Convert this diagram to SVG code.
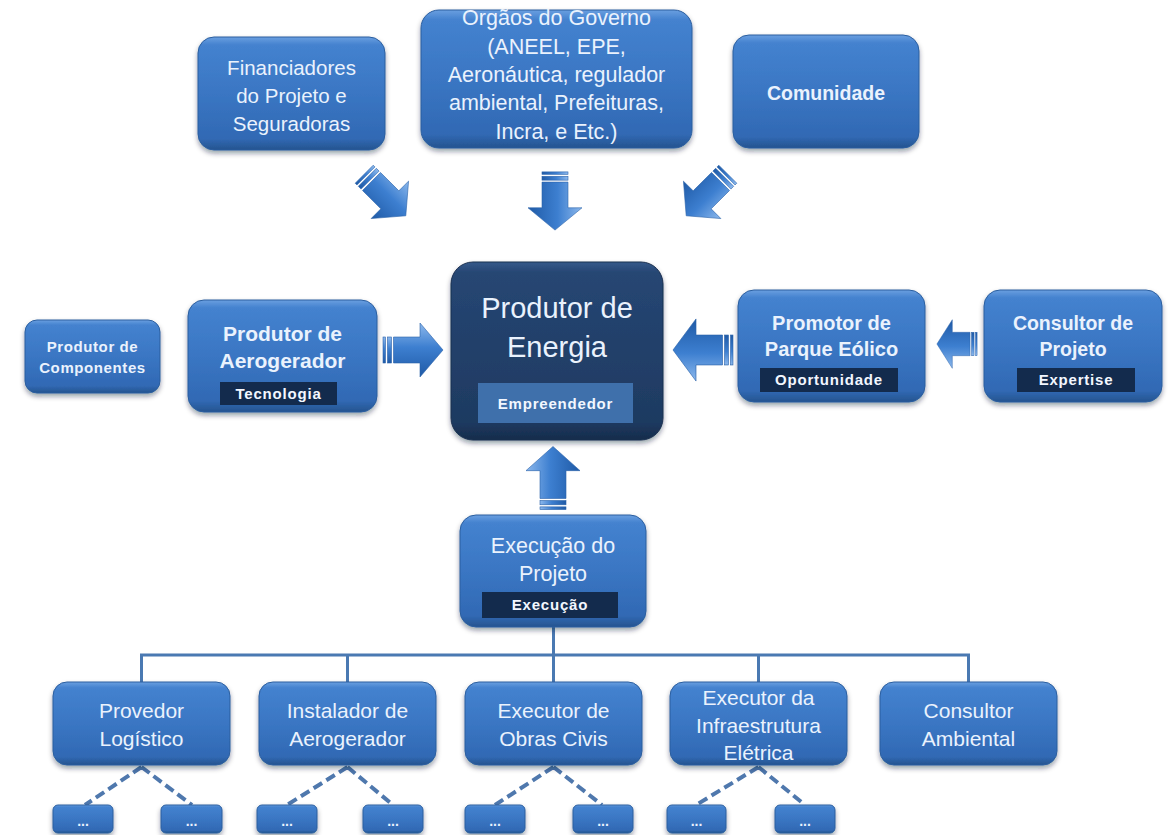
<svg xmlns="http://www.w3.org/2000/svg" width="1168" height="835" viewBox="0 0 1168 835">
<defs>
<linearGradient id="gBox" x1="0" y1="0" x2="0" y2="1">
<stop offset="0" stop-color="#6a9fe0"/>
<stop offset="0.07" stop-color="#4482cf"/>
<stop offset="0.5" stop-color="#3a76c3"/>
<stop offset="0.9" stop-color="#3169b4"/>
<stop offset="1" stop-color="#25548f"/>
</linearGradient>
<linearGradient id="gDark" x1="0" y1="0" x2="0" y2="1">
<stop offset="0" stop-color="#34598a"/>
<stop offset="0.06" stop-color="#264673"/>
<stop offset="0.9" stop-color="#1e3a61"/>
<stop offset="1" stop-color="#162c4b"/>
</linearGradient>
<linearGradient id="gArrow" x1="0" y1="0" x2="0" y2="1">
<stop offset="0" stop-color="#8cb8ec"/>
<stop offset="0.45" stop-color="#3d7fd0"/>
<stop offset="1" stop-color="#1f5aa6"/>
</linearGradient>
<filter id="sh" x="-10%" y="-10%" width="120%" height="130%">
<feDropShadow dx="0" dy="3" stdDeviation="2.5" flood-color="#0a1a33" flood-opacity="0.4"/>
</filter>
<g id="arrow">
<rect x="-30" y="-13" width="2.5" height="26"/>
<rect x="-25.5" y="-13" width="4" height="26"/>
<path d="M-19.5,-13 L7,-13 L7,-27 L30,0 L7,27 L7,13 L-19.5,13 Z"/>
</g>
<style>
.box{fill:url(#gBox);stroke:#2b5e9f;stroke-width:1;filter:url(#sh)}
.dark{fill:url(#gDark);stroke:#1a3050;stroke-width:1;filter:url(#sh)}
.bar{fill:#132b4d}
.bar2{fill:#3f70ab}
.t{font-family:"Liberation Sans",Arial,sans-serif;fill:#eaf2fd;text-anchor:middle}
.tb{font-family:"Liberation Sans",Arial,sans-serif;fill:#eaf2fd;text-anchor:middle;font-weight:bold}
.lbl{font-family:"Liberation Sans",Arial,sans-serif;fill:#f2f7ff;text-anchor:middle;font-weight:bold;font-size:15px;letter-spacing:0.8px}
.arr{fill:url(#gArrow);stroke:#2a62aa;stroke-width:0.6}
.con{stroke:#4a79b2;stroke-width:3;fill:none}
.dash{stroke:#4f78ad;stroke-width:4;fill:none;stroke-dasharray:10 5}
</style>
</defs>
<rect width="1168" height="835" fill="#ffffff"/>

<g id="connectors">
<path class="con" d="M553.5,627 V682 M141.5,682 V655 H968.5 V682 M347.5,655 V682 M758.5,655 V682"/>
<path class="dash" d="M141.5,767 L85,805 M141.5,767 L192,805 M347.5,767 L287,805 M347.5,767 L393,805 M553.5,767 L495,805 M553.5,767 L602,805 M758.5,767 L696,805 M758.5,767 L805,805"/>
<use href="#arrow" class="arr" transform="translate(385,195) rotate(45) scale(0.98)"/>
<use href="#arrow" class="arr" transform="translate(555,201) rotate(90) scale(0.97,1)"/>
<use href="#arrow" class="arr" transform="translate(707,195) rotate(135) scale(0.98)"/>
<use href="#arrow" class="arr" transform="translate(413,350)"/>
<use href="#arrow" class="arr" transform="translate(703,350) rotate(180) scale(1,1.15)"/>
<use href="#arrow" class="arr" transform="translate(957,344) rotate(180) scale(0.67,0.9)"/>
<use href="#arrow" class="arr" transform="translate(553,478) rotate(-90) scale(1.05,1)"/>
</g>

<g id="financiadores">
<rect class="box" x="198" y="37" width="187" height="113" rx="16"/>
<text class="t" font-size="20.5"><tspan x="291.5" y="75">Financiadores</tspan><tspan x="291.5" y="103">do Projeto e</tspan><tspan x="291.5" y="131">Seguradoras</tspan></text>
</g>
<g id="orgaos">
<rect class="box" x="421" y="10" width="271" height="138" rx="18"/>
<text class="t" font-size="21.5"><tspan x="556.5" y="25">Orgãos do Governo</tspan><tspan x="556.5" y="54">(ANEEL, EPE,</tspan><tspan x="556.5" y="82">Aeronáutica, regulador</tspan><tspan x="556.5" y="110">ambiental, Prefeituras,</tspan><tspan x="556.5" y="139">Incra, e Etc.)</tspan></text>
</g>
<g id="comunidade">
<rect class="box" x="733" y="35" width="186" height="113" rx="16"/>
<text class="tb" font-size="19.5" x="826" y="100">Comunidade</text>
</g>

<g id="componentes">
<rect class="box" x="25" y="320" width="135" height="73" rx="12"/>
<text class="tb" font-size="15" letter-spacing="0.6"><tspan x="92.5" y="352">Produtor de</tspan><tspan x="92.5" y="373">Componentes</tspan></text>
</g>
<g id="aerogerador">
<rect class="box" x="188" y="300" width="189" height="112" rx="16"/>
<text class="tb" font-size="21"><tspan x="282.5" y="341">Produtor de</tspan><tspan x="282.5" y="368">Aerogerador</tspan></text>
<rect class="bar" x="220" y="382" width="117" height="23"/>
<text class="lbl" x="278.5" y="399">Tecnologia</text>
</g>
<g id="energia">
<rect class="dark" x="451" y="262" width="212" height="178" rx="22"/>
<text class="t" font-size="29"><tspan x="557" y="318">Produtor de</tspan><tspan x="557" y="357">Energia</tspan></text>
<rect class="bar2" x="478" y="383" width="155" height="40"/>
<text class="lbl" font-size="17" x="555.5" y="409">Empreendedor</text>
</g>
<g id="promotor">
<rect class="box" x="738" y="290" width="187" height="112" rx="16"/>
<text class="tb" font-size="20"><tspan x="831.5" y="330">Promotor de</tspan><tspan x="831.5" y="356">Parque Eólico</tspan></text>
<rect class="bar" x="760" y="368" width="138" height="24"/>
<text class="lbl" x="829" y="385">Oportunidade</text>
</g>
<g id="consultor-projeto">
<rect class="box" x="984" y="290" width="178" height="112" rx="16"/>
<text class="tb" font-size="19.5"><tspan x="1073" y="330">Consultor de</tspan><tspan x="1073" y="356">Projeto</tspan></text>
<rect class="bar" x="1017" y="368" width="118" height="24"/>
<text class="lbl" x="1076" y="385">Expertise</text>
</g>
<g id="execucao">
<rect class="box" x="460" y="515" width="186" height="112" rx="16"/>
<text class="t" font-size="21.5"><tspan x="553" y="553">Execução do</tspan><tspan x="553" y="581">Projeto</tspan></text>
<rect class="bar" x="482" y="592" width="136" height="26"/>
<text class="lbl" x="550" y="610">Execução</text>
</g>

<g id="provedor">
<rect class="box" x="53" y="682" width="177" height="83" rx="14"/>
<text class="t" font-size="21"><tspan x="141.5" y="718">Provedor</tspan><tspan x="141.5" y="746">Logístico</tspan></text>
</g>
<g id="instalador">
<rect class="box" x="259" y="682" width="177" height="83" rx="14"/>
<text class="t" font-size="21"><tspan x="347.5" y="718">Instalador de</tspan><tspan x="347.5" y="746">Aerogerador</tspan></text>
</g>
<g id="obras">
<rect class="box" x="465" y="682" width="177" height="83" rx="14"/>
<text class="t" font-size="21"><tspan x="553.5" y="718">Executor de</tspan><tspan x="553.5" y="746">Obras Civis</tspan></text>
</g>
<g id="infra">
<rect class="box" x="670" y="682" width="177" height="83" rx="14"/>
<text class="t" font-size="21"><tspan x="758.5" y="705">Executor da</tspan><tspan x="758.5" y="733">Infraestrutura</tspan><tspan x="758.5" y="760">Elétrica</tspan></text>
</g>
<g id="ambiental">
<rect class="box" x="880" y="682" width="177" height="83" rx="14"/>
<text class="t" font-size="21"><tspan x="968.5" y="718">Consultor</tspan><tspan x="968.5" y="746">Ambiental</tspan></text>
</g>

<g id="sub-provedor-1"><rect class="box" x="53" y="805" width="60" height="28" rx="5"/><text class="tb" font-size="14" x="83" y="826">...</text></g>
<g id="sub-provedor-2"><rect class="box" x="161" y="805" width="61" height="28" rx="5"/><text class="tb" font-size="14" x="191.5" y="826">...</text></g>
<g id="sub-instalador-1"><rect class="box" x="257" y="805" width="60" height="28" rx="5"/><text class="tb" font-size="14" x="287" y="826">...</text></g>
<g id="sub-instalador-2"><rect class="box" x="363" y="805" width="60" height="28" rx="5"/><text class="tb" font-size="14" x="393" y="826">...</text></g>
<g id="sub-obras-1"><rect class="box" x="465" y="805" width="60" height="28" rx="5"/><text class="tb" font-size="14" x="495" y="826">...</text></g>
<g id="sub-obras-2"><rect class="box" x="573" y="805" width="60" height="28" rx="5"/><text class="tb" font-size="14" x="603" y="826">...</text></g>
<g id="sub-infra-1"><rect class="box" x="667" y="805" width="59" height="28" rx="5"/><text class="tb" font-size="14" x="696.5" y="826">...</text></g>
<g id="sub-infra-2"><rect class="box" x="775" y="805" width="60" height="28" rx="5"/><text class="tb" font-size="14" x="805" y="826">...</text></g>
</svg>
